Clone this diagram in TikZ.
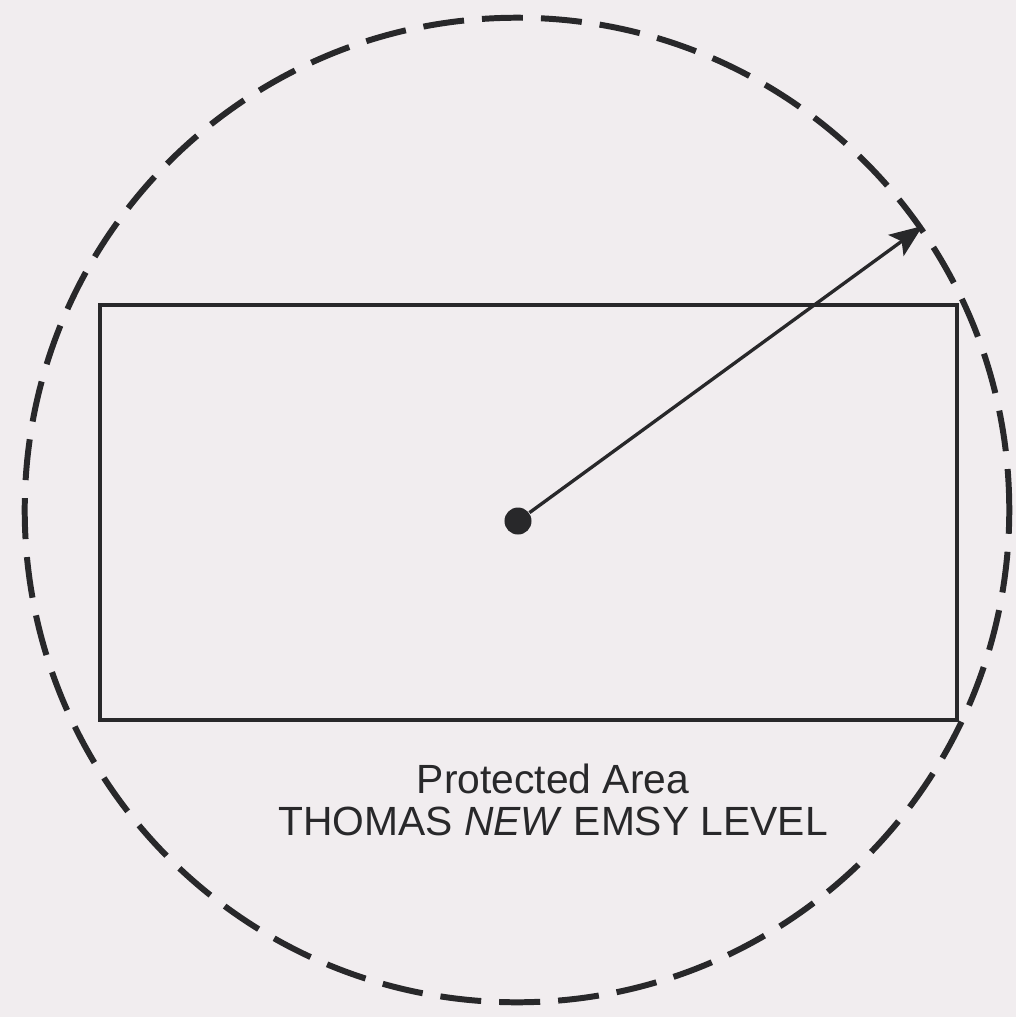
\documentclass[tikz,border=0pt]{standalone}
\usepackage{fontspec}
\setmainfont{Liberation Sans}
\usepackage{xcolor}
\usepackage{tikz}
\definecolor{papercolor}{RGB}{241, 237, 239}
\definecolor{inkcolor}{RGB}{40, 40, 42}
\usetikzlibrary{shapes.geometric, arrows.meta, positioning, calc}

\begin{document}
\begin{tikzpicture}[
    x=0.01cm, y=-0.01cm,
    zone/.style={circle, draw=inkcolor, line width=1.7pt, dash pattern=on 0.41cm off 0.18cm, minimum size=9.84cm, inner sep=0pt},
    area/.style={rectangle, draw=inkcolor, line width=1.05pt, minimum width=8.57cm, minimum height=4.15cm, inner sep=0pt},
    centre/.style={circle, fill=inkcolor, minimum size=0.27cm, inner sep=0pt},
    label/.style={align=center, font=\fontsize{11.6}{12}\selectfont, text=inkcolor}
]
    % background
    \fill[papercolor] (0,0) rectangle (1016,1017);
    \useasboundingbox (0,0) rectangle (1016,1017);

    % protected zone and area
    \node[zone] (zone) at (517, 510) {};
    \node[area] (area) at (528.5, 512.5) {};

    % centre point and radius
    \node[centre] (centre) at (518, 521) {};
    \coordinate (edge) at (zone.35);
    \draw[draw=inkcolor, line width=0.95pt, -{Stealth[length=0.33cm, width=0.26cm, inset=0.07cm]}] (centre) -- (edge);

    \node[label] (caption) at (553, 800) {Protected Area\\THOMAS \textit{NEW} EMSY LEVEL};
\end{tikzpicture}
\end{document}
